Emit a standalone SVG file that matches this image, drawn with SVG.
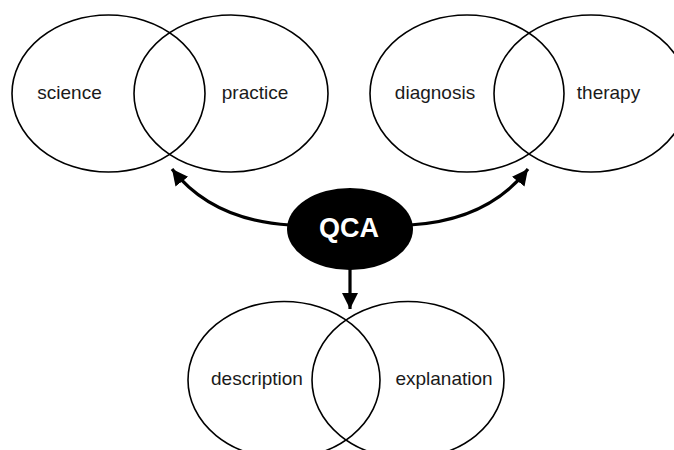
<svg xmlns="http://www.w3.org/2000/svg" width="674" height="450" viewBox="0 0 674 450">
<style>
.set{fill:none;stroke:#000;stroke-width:1.6}
.lbl{font-family:"Liberation Sans",Arial,sans-serif;font-size:19px;fill:#1a1a1a;text-anchor:middle}
.qca{font-family:"Liberation Sans",Arial,sans-serif;font-size:27px;font-weight:bold;fill:#fff;text-anchor:middle}
.arr{fill:none;stroke:#000;stroke-width:3.2}
</style>
<defs>
<marker id="ah" markerUnits="userSpaceOnUse" markerWidth="18" markerHeight="18" refX="16" refY="8" orient="auto">
<path d="M0,0 L16,8 L0,16 Z" fill="#000"/>
</marker>
</defs>
<rect width="674" height="450" fill="#fff"/>
<g id="science"><ellipse class="set" cx="108.5" cy="93.5" rx="96.5" ry="78.5"/><text class="lbl" x="69.5" y="99">science</text></g>
<g id="practice"><ellipse class="set" cx="231" cy="93.5" rx="97" ry="78.5"/><text class="lbl" x="255" y="99">practice</text></g>
<g id="diagnosis"><ellipse class="set" cx="467" cy="93.5" rx="97" ry="78.5"/><text class="lbl" x="435" y="99">diagnosis</text></g>
<g id="therapy"><ellipse class="set" cx="591" cy="93.5" rx="97" ry="78.5"/><text class="lbl" x="608.5" y="99">therapy</text></g>
<g id="description"><ellipse class="set" cx="284" cy="380" rx="96" ry="78.5"/><text class="lbl" x="257" y="385">description</text></g>
<g id="explanation"><ellipse class="set" cx="408" cy="380" rx="96" ry="78.5"/><text class="lbl" x="444" y="385">explanation</text></g>
<g id="connectors">
<path class="arr" d="M290,225 C240,222 200,205 172,169" marker-end="url(#ah)"/>
<path class="arr" d="M410,225 C460,222 500,205 528,169" marker-end="url(#ah)"/>
<path class="arr" d="M350,268 L350,309" marker-end="url(#ah)"/>
</g>
<g id="QCA"><ellipse cx="350" cy="229" rx="63" ry="41" fill="#000"/><text class="qca" x="349" y="237">QCA</text></g>
</svg>
